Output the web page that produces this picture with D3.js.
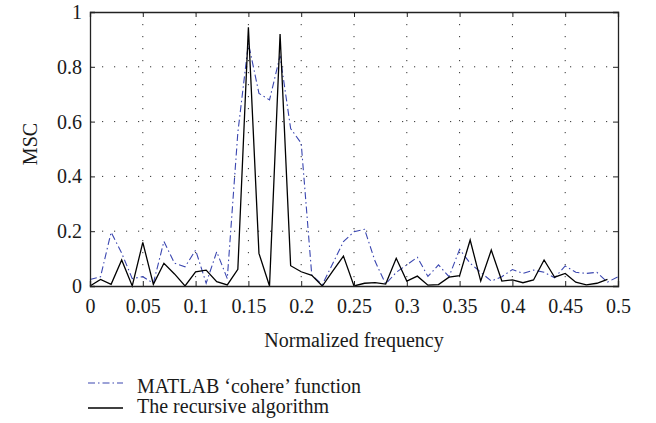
<!DOCTYPE html>
<html>
<head>
<meta charset="utf-8">
<script src="https://cdn.jsdelivr.net/npm/d3@7"></script>
<style>
  body { margin: 0; background: #fff; }
  svg text { font-family: "Liberation Serif", "Times New Roman", serif; fill: #1a1a1a; }
</style>
</head>
<body>
<div class="msc-chart"></div>
<script>
// normalized frequency steps of 0.01
const recursive = [
  0, 0.024, 0.006, 0.095, 0, 0.159, 0.006, 0.083, 0.044, 0,
  0.052, 0.058, 0.016, 0.004, 0.061, 0.944, 0.119, 0, 0.92, 0.074,
  0.052, 0.039, 0, 0.055, 0.109, 0, 0.01, 0.012, 0.007, 0.101,
  0.018, 0.036, 0.003, 0.005, 0.032, 0.038, 0.168, 0.018, 0.131, 0.018,
  0.022, 0.012, 0.022, 0.095, 0.032, 0.046, 0.014, 0.004, 0.01, 0.024
];
const cohere = [
  0.024, 0.034, 0.196, 0.12, 0.027, 0.034, 0.01, 0.163, 0.083, 0.07,
  0.131, 0.01, 0.125, 0.027, 0.56, 0.886, 0.703, 0.679, 0.84, 0.575,
  0.521, 0.04, 0.005, 0.083, 0.162, 0.198, 0.207, 0.09, 0.007, 0.05,
  0.077, 0.105, 0.035, 0.077, 0.034, 0.134, 0.083, 0.05, 0.018, 0.034,
  0.06, 0.046, 0.058, 0.05, 0.03, 0.073, 0.05, 0.046, 0.05, 0.014,
  0.034
];
const xTicks = [0, 0.05, 0.1, 0.15, 0.2, 0.25, 0.3, 0.35, 0.4, 0.45, 0.5];
const yTicks = [0, 0.2, 0.4, 0.6, 0.8, 1];
const legendLabels = ["MATLAB \u2018cohere\u2019 function", "The recursive algorithm"];

const width = 656;
const height = 423;
const margin = { top: 12, right: 38, bottom: 137, left: 90 };
const innerW = width - margin.left - margin.right;
const innerH = height - margin.top - margin.bottom;
const blue = "#3a46b0";
const fontSize = 20;

const svg = d3.select(".msc-chart")
  .append("svg")
  .attr("width", width)
  .attr("height", height);

const g = svg.append("g")
  .attr("transform", `translate(${margin.left}, ${margin.top})`);

const x = d3.scaleLinear().domain([0, 0.5]).range([0, innerW]);
const y = d3.scaleLinear().domain([0, 1]).range([innerH, 0]);

// dotted grid
g.append("g").selectAll("line").data(xTicks.slice(1, -1)).enter()
  .append("line")
  .attr("x1", d => x(d)).attr("x2", d => x(d))
  .attr("y1", 0).attr("y2", innerH)
  .attr("stroke", "#333").attr("stroke-dasharray", "1.2,10.8");
g.append("g").selectAll("line").data(yTicks.slice(1, -1)).enter()
  .append("line")
  .attr("y1", d => y(d)).attr("y2", d => y(d))
  .attr("x1", 0).attr("x2", innerW)
  .attr("stroke", "#333").attr("stroke-dasharray", "1.2,10.8");

// lines
const line = d3.line()
  .x((d, i) => x(i * 0.01))
  .y(d => y(d));

g.append("path")
  .datum(cohere)
  .attr("d", line)
  .attr("fill", "none")
  .attr("stroke", blue)
  .attr("stroke-width", 1.1)
  .attr("stroke-dasharray", "7,3,1.5,3");

g.append("path")
  .datum(recursive)
  .attr("d", line)
  .attr("fill", "none")
  .attr("stroke", "#000")
  .attr("stroke-width", 1.3)
  .attr("stroke-linejoin", "miter");

// axes, matlab style: ticks inward on all four sides
const fmt = d => d === 0 ? "0" : (d === 1 ? "1" : d3.format("")(+d.toFixed(2)));
const axBottom = g.append("g")
  .attr("transform", `translate(0, ${innerH})`)
  .call(d3.axisBottom(x).tickValues(xTicks).tickSize(-5).tickPadding(13).tickFormat(fmt));
const axTop = g.append("g")
  .call(d3.axisTop(x).tickValues(xTicks).tickSize(-5).tickFormat(""));
const axLeft = g.append("g")
  .call(d3.axisLeft(y).tickValues(yTicks).tickSize(-5).tickPadding(8).tickFormat(fmt));
const axRight = g.append("g")
  .attr("transform", `translate(${innerW}, 0)`)
  .call(d3.axisRight(y).tickValues(yTicks).tickSize(-5).tickFormat(""));

[axBottom, axTop, axLeft, axRight].forEach(a => {
  a.select(".domain").attr("stroke", "#222").attr("stroke-width", 1.3);
  a.selectAll(".tick line").attr("stroke", "#222");
  a.selectAll("text")
    .attr("font-family", null)
    .attr("font-size", fontSize)
    .attr("fill", null);
});

// axis titles
svg.append("text")
  .attr("x", margin.left + innerW / 2)
  .attr("y", 347)
  .attr("text-anchor", "middle")
  .attr("font-size", fontSize)
  .text("Normalized frequency");

svg.append("text")
  .attr("transform", `translate(37, 144) rotate(-90)`)
  .attr("text-anchor", "middle")
  .attr("font-size", fontSize)
  .text("MSC");

// legend
const legend = svg.append("g").attr("transform", "translate(88, 0)");
const legendY = [383, 408];
const legendBase = [393, 413];
legend.selectAll("line").data(legendLabels).enter()
  .append("line")
  .attr("x1", 0).attr("x2", 35)
  .attr("y1", (d, i) => legendY[i]).attr("y2", (d, i) => legendY[i])
  .attr("stroke", (d, i) => i === 0 ? blue : "#000")
  .attr("stroke-width", (d, i) => i === 0 ? 1.1 : 1.3)
  .attr("stroke-dasharray", (d, i) => i === 0 ? "7,3,1.5,3" : null);
legend.selectAll("text").data(legendLabels).enter()
  .append("text")
  .attr("x", 49)
  .attr("y", (d, i) => legendBase[i])
  .attr("font-size", fontSize)
  .text(d => d);
</script>
</body>
</html>
